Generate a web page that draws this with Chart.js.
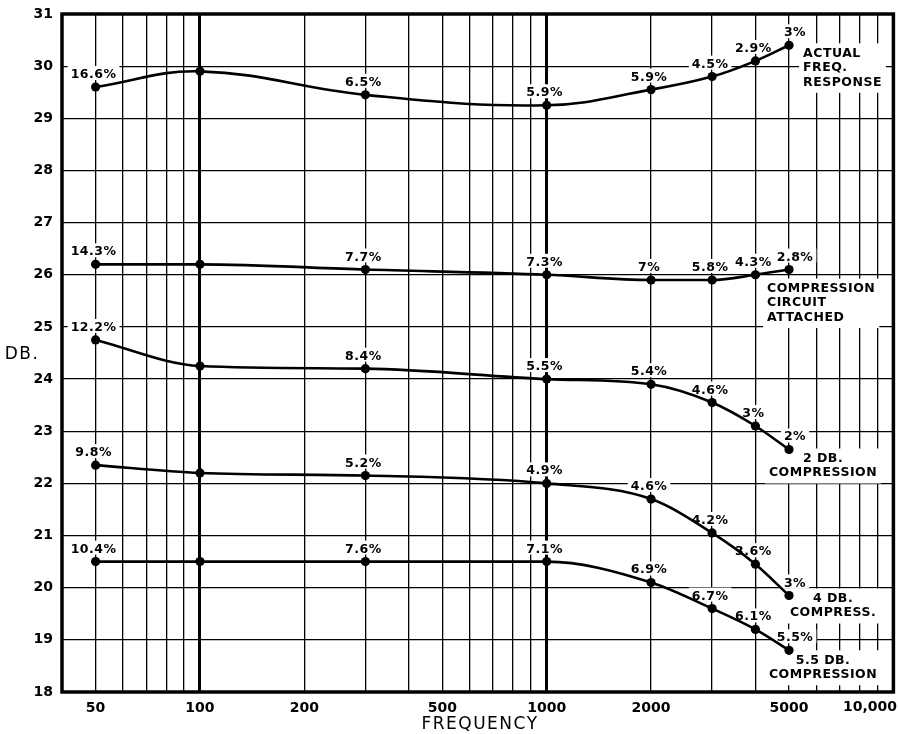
<!DOCTYPE html>
<html>
<head>
<meta charset="utf-8">
<script src="https://cdn.jsdelivr.net/npm/chart.js@4/dist/chart.umd.min.js"></script>
<style>
  html, body { margin: 0; padding: 0; background: #fff; }
</style>
</head>
<body>
<canvas id="chart" width="898" height="734"></canvas>
<script>
// frequencies measured (c/s) and dB readings per curve
const frequencies = [50, 100, 300, 1000, 2000, 3000, 4000, 5000];
const actualResponse = [29.6, 29.9, 29.45, 29.25, 29.55, 29.8, 30.1, 30.4];
const circuitAttached = [26.2, 26.2, 26.1, 26.0, 25.9, 25.9, 26.0, 26.1];
const compression2 = [24.75, 24.25, 24.2, 24.0, 23.9, 23.55, 23.1, 22.65];
const compression4 = [22.35, 22.2, 22.15, 22.0, 21.7, 21.05, 20.45, 19.85];
const compression55 = [20.5, 20.5, 20.5, 20.5, 20.1, 19.6, 19.2, 18.8];

// distortion figures written next to the points
const distActual = ['16.6%', '', '6.5%', '5.9%', '5.9%', '4.5%', '2.9%', '3%'];
const distCircuit = ['14.3%', '', '7.7%', '7.3%', '7%', '5.8%', '4.3%', '2.8%'];
const dist2 = ['12.2%', '', '8.4%', '5.5%', '5.4%', '4.6%', '3%', '2%'];
const dist4 = ['9.8%', '', '5.2%', '4.9%', '4.6%', '4.2%', '3.6%', '3%'];
const dist55 = ['10.4%', '', '7.6%', '7.1%', '6.9%', '6.7%', '6.1%', '5.5%'];

// curve names
const nameActual = ['ACTUAL', 'FREQ.', 'RESPONSE'];
const nameCircuit = ['COMPRESSION', 'CIRCUIT', 'ATTACHED'];
const name2 = ['2 DB.', 'COMPRESSION'];
const name4 = ['4 DB.', 'COMPRESS.'];
const name55 = ['5.5 DB.', 'COMPRESSION'];

// axes
const xGridValues = [50, 60, 70, 80, 90, 100, 200, 300, 400, 500, 600, 700, 800, 900,
  1000, 2000, 3000, 4000, 5000, 6000, 7000, 8000, 9000, 10000];
const xLabelled = [50, 100, 200, 500, 1000, 2000, 5000];
const xEndLabel = '10,000';
const xHeavy = [100, 1000];
const yMin = 18, yMax = 31;

const FONT = '"DejaVu Sans", sans-serif';
const TXT = 'bold 12.5px ' + FONT;
const INK = '#000';

// where each name block sits relative to the curve's last point
const nameStyle = [
  { align: 'left', dx: 14, dy: 8 },
  { align: 'left', dx: -22, dy: 19 },
  { align: 'center', dx: 34, dy: 9 },
  { align: 'center', dx: 44, dy: 3 },
  { align: 'center', dx: 34, dy: 10 },
];

const curves = [actualResponse, circuitAttached, compression2, compression4, compression55];
const distortions = [distActual, distCircuit, dist2, dist4, dist55];
const names = [nameActual, nameCircuit, name2, name4, name55];

const datasets = curves.map((vals, k) => ({
  data: frequencies.map((f, i) => ({ x: f, y: vals[i] })),
  borderColor: INK,
  borderWidth: 2.6,
  backgroundColor: INK,
  pointRadius: 4.6,
  pointBorderWidth: 0,
  pointBackgroundColor: INK,
  tension: 0.4,
  cubicInterpolationMode: k === 0 ? 'default' : 'monotone',
  fill: false,
}));

function pctBoxes(chart) {
  const ctx = chart.ctx;
  const out = [];
  ctx.font = TXT;
  ctx.letterSpacing = '0.5px';
  chart.data.datasets.forEach((ds, di) => {
    const meta = chart.getDatasetMeta(di);
    meta.data.forEach((pt, i) => {
      const txt = distortions[di][i];
      if (!txt) return;
      const w = ctx.measureText(txt).width;
      const last = i === frequencies.length - 1;
      const cx = pt.x + (last ? 8 : 0) - 2;
      const by = pt.y - 9;
      out.push({ txt, cx, by, w });
    });
  });
  return out;
}

function nameBoxes(chart) {
  const ctx = chart.ctx;
  const out = [];
  ctx.font = TXT;
  ctx.letterSpacing = '0.5px';
  chart.data.datasets.forEach((ds, di) => {
    const meta = chart.getDatasetMeta(di);
    const pt = meta.data[meta.data.length - 1];
    const st = nameStyle[di];
    const lines = names[di];
    const maxW = Math.max(...lines.map(l => ctx.measureText(l).width));
    out.push({ lines, maxW, x0: pt.x + st.dx, y0: pt.y + st.dy, align: st.align });
  });
  return out;
}

const annotate = {
  id: 'annotate',
  beforeDatasetsDraw(chart) {
    const ctx = chart.ctx;
    ctx.save();
    ctx.fillStyle = '#fff';
    pctBoxes(chart).forEach(b => {
      ctx.fillRect(b.cx - b.w / 2 - 3, b.by - 12, b.w + 6, 14);
    });
    nameBoxes(chart).forEach(b => {
      const left = b.align === 'left' ? b.x0 : b.x0 - b.maxW / 2;
      ctx.fillRect(left - 4, b.y0 - 10, b.maxW + 8, b.lines.length * 14.5 + 6);
    });
    ctx.restore();
  },
  afterDatasetsDraw(chart) {
    const ctx = chart.ctx;
    ctx.save();
    ctx.fillStyle = INK;
    ctx.font = TXT;
    ctx.letterSpacing = '0.5px';
    pctBoxes(chart).forEach(b => {
      ctx.textAlign = 'center';
      ctx.textBaseline = 'alphabetic';
      ctx.fillText(b.txt, b.cx, b.by);
    });
    nameBoxes(chart).forEach(b => {
      ctx.textAlign = b.align;
      ctx.textBaseline = 'middle';
      b.lines.forEach((l, k) => ctx.fillText(l, b.x0, b.y0 + k * 14.5));
    });
    ctx.restore();
  },
  afterDraw(chart) {
    const ctx = chart.ctx;
    const a = chart.chartArea;
    const xs = chart.scales.x;
    ctx.save();
    ctx.strokeStyle = INK;
    ctx.lineWidth = 3.5;
    ctx.strokeRect(a.left, a.top, a.right - a.left, a.bottom - a.top);
    ctx.fillStyle = INK;
    // last frequency label sits flush against the right edge
    ctx.font = 'bold 14px ' + FONT;
    ctx.textAlign = 'right';
    ctx.textBaseline = 'middle';
    ctx.fillText(xEndLabel, Math.min(xs.getPixelForValue(10000) + 26, chart.width - 1), 707);
    ctx.font = '17px ' + FONT;
    ctx.letterSpacing = '1.5px';
    ctx.textAlign = 'center';
    ctx.fillText('DB.', 22, 355);
    ctx.fillText('FREQUENCY', 480, 725);
    ctx.restore();
  }
};

new Chart(document.getElementById('chart'), {
  type: 'line',
  data: { datasets },
  options: {
    responsive: false,
    animation: false,
    layout: { padding: { top: 14, right: 4, left: 0, bottom: 0 } },
    plugins: { legend: { display: false }, tooltip: { enabled: false } },
    scales: {
      x: {
        type: 'logarithmic',
        min: 40,
        max: 10000,
        afterBuildTicks: (scale) => { scale.ticks = xGridValues.map(v => ({ value: v })); },
        afterFit: (scale) => {
          scale.height = 42;
          scale.paddingLeft = 0;
          scale.paddingRight = 0;
        },
        grid: {
          color: INK,
          drawTicks: false,
          lineWidth: (c) => (c.tick && xHeavy.includes(c.tick.value)) ? 3 : 1.3,
        },
        border: { display: false },
        ticks: {
          autoSkip: false,
          maxRotation: 0,
          padding: 8,
          color: INK,
          font: { family: FONT, size: 14, weight: 'bold' },
          callback: (v) => xLabelled.includes(v) ? String(v) : '',
        },
      },
      y: {
        min: yMin,
        max: yMax,
        afterFit: (scale) => {
          scale.width = 62;
          scale.paddingTop = 0;
          scale.paddingBottom = 0;
        },
        grid: { color: INK, lineWidth: 1.3, drawTicks: false },
        border: { display: false },
        ticks: {
          stepSize: 1,
          padding: 9,
          color: INK,
          font: { family: FONT, size: 14, weight: 'bold' },
        },
      },
    },
  },
  plugins: [annotate],
});
</script>
</body>
</html>
